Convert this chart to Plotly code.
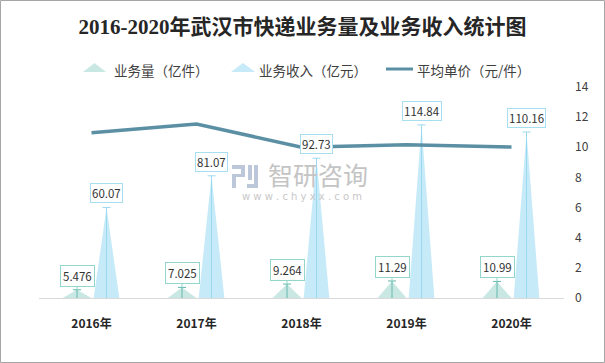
import plotly.graph_objects as go

# ---------------- data ----------------
years = ["2016年", "2017年", "2018年", "2019年", "2020年"]
volume = [5.476, 7.025, 9.264, 11.29, 10.99]          # 业务量（亿件）
revenue = [60.07, 81.07, 92.73, 114.84, 110.16]       # 业务收入（亿元）
unit_price = [10.97, 11.54, 10.01, 10.17, 10.02]      # 平均单价（元/件）
price_ticks = [0, 2, 4, 6, 8, 10, 12, 14]
volume_labels = ["5.476", "7.025", "9.264", "11.29", "10.99"]
revenue_labels = ["60.07", "81.07", "92.73", "114.84", "110.16"]

# ---------------- layout constants ----------------
W, H = 605, 363
ML, MR, MT, MB = 39, 41, 87, 65
PW, PH = W - ML - MR, H - MT - MB


def px_x(px):
    return (px - ML) / PW


def px_y(py):
    return (H - MB - py) / PH


VOL_OFF, REV_OFF = -0.138, 0.143
VOL_HW, REV_HW = 0.137, 0.122
CAP_HW = 0.038

VOL_FILL = "#c9e8e4"
REV_FILL = "#c6eaf8"
VOL_LINE = "#62b9ad"
REV_LINE = "#9ad9ef"
PRICE_COLOR = "#5b8fa4"
FONT = "Microsoft YaHei, Noto Sans CJK SC, Noto Sans, sans-serif"


def triangles(values, off, hw):
    xs, ys = [], []
    for i, v in enumerate(values):
        c = i + off
        xs += [c - hw, c, c + hw, c - hw, None]
        ys += [0, v, 0, 0, None]
    return xs, ys


def leaders(values, off):
    xs, ys = [], []
    for i, v in enumerate(values):
        c = i + off
        xs += [c, c, None, c - CAP_HW, c + CAP_HW, None]
        ys += [0, v, None, v, v, None]
    return xs, ys


fig = go.Figure()

for vals, off, hw, fillc, linec in [
    (volume, VOL_OFF, VOL_HW, VOL_FILL, VOL_LINE),
    (revenue, REV_OFF, REV_HW, REV_FILL, REV_LINE),
]:
    tx, ty = triangles(vals, off, hw)
    fig.add_trace(go.Scatter(x=tx, y=ty, mode="lines", fill="toself",
                             fillcolor=fillc, line=dict(width=0, color=fillc),
                             hoverinfo="skip", showlegend=False, yaxis="y"))
    lx, ly = leaders(vals, off)
    fig.add_trace(go.Scatter(x=lx, y=ly, mode="lines",
                             line=dict(width=1, color=linec),
                             hoverinfo="skip", showlegend=False, yaxis="y"))

fig.add_trace(go.Scatter(x=list(range(len(years))), y=unit_price, mode="lines",
                         line=dict(width=3.5, color=PRICE_COLOR),
                         showlegend=False, yaxis="y2"))

annotations = []
for i, (v, t) in enumerate(zip(revenue, revenue_labels)):
    annotations.append(dict(x=i + REV_OFF, y=v, xref="x", yref="y", text=t,
                            showarrow=False, yanchor="bottom", yshift=4,
                            bordercolor="#a8def2", borderwidth=1, borderpad=1,
                            bgcolor="white",
                            font=dict(size=11.5, color="#333333", family=FONT)))
for i, (v, t) in enumerate(zip(volume, volume_labels)):
    annotations.append(dict(x=i + VOL_OFF, y=v, xref="x", yref="y", text=t,
                            showarrow=True, arrowhead=0, arrowwidth=1,
                            arrowcolor="#93d6cc", ax=0, ay=-14,
                            bordercolor="#93d6cc", borderwidth=1, borderpad=2,
                            bgcolor="white",
                            font=dict(size=11.5, color="#333333", family=FONT)))

# custom legend
legend_items = [
    ("业务量（亿件）", 112),
    ("业务收入（亿元）", 257),
    ("平均单价（元/件）", 415),
]
for text, xpx in legend_items:
    annotations.append(dict(x=px_x(xpx), y=px_y(69.5), xref="paper", yref="paper",
                            text=text, showarrow=False, xanchor="left",
                            yanchor="middle",
                            font=dict(size=13.5, color="#404040", family=FONT)))

# watermark
annotations.append(dict(x=px_x(318), y=px_y(174), xref="paper", yref="paper",
                        text="智研咨询", showarrow=False,
                        font=dict(size=25, color="#c4c4c4", family=FONT)))
annotations.append(dict(x=px_x(302), y=px_y(196), xref="paper", yref="paper",
                        text="w w w . c h y x x . c o m", showarrow=False,
                        font=dict(size=10, color="#c8c8c8", family="DejaVu Sans")))

shapes = []


def tri_path(x0, x1, ybase, ytop):
    xm = (x0 + x1) / 2
    return (f"M {px_x(x0)},{px_y(ybase)} L {px_x(xm)},{px_y(ytop)} "
            f"L {px_x(x1)},{px_y(ybase)} Z")


shapes.append(dict(type="path", xref="paper", yref="paper",
                   path=tri_path(83, 106, 72, 63), fillcolor=VOL_FILL,
                   line=dict(width=0)))
shapes.append(dict(type="path", xref="paper", yref="paper",
                   path=tri_path(231, 255, 72, 63), fillcolor=REV_FILL,
                   line=dict(width=0)))
shapes.append(dict(type="line", xref="paper", yref="paper",
                   x0=px_x(386), x1=px_x(413), y0=px_y(69), y1=px_y(69),
                   line=dict(width=3, color=PRICE_COLOR)))

# watermark logo (approximate)
LOGO = "#bcc8da"
for (x0, y0, x1, y1) in [(232, 165, 245, 169), (241, 165, 245, 177),
                         (232, 174, 245, 177), (232, 174, 236, 188),
                         (248, 165, 252, 180), (247, 184, 258, 188),
                         (254, 165, 258, 184)]:
    shapes.append(dict(type="rect", xref="paper", yref="paper",
                       x0=px_x(x0), x1=px_x(x1), y0=px_y(y1), y1=px_y(y0),
                       fillcolor=LOGO, line=dict(width=0), layer="below"))

# outer border
shapes.append(dict(type="rect", xref="paper", yref="paper",
                   x0=px_x(0.5), x1=px_x(W - 0.5), y0=px_y(H - 0.5), y1=px_y(0.5),
                   line=dict(width=1, color="#a6a6a6"), fillcolor="rgba(0,0,0,0)"))

fig.update_layout(
    width=W, height=H,
    margin=dict(l=ML, r=MR, t=MT, b=MB, pad=0),
    paper_bgcolor="white", plot_bgcolor="white",
    showlegend=False,
    title=dict(text="<b>2016-2020年武汉市快递业务量及业务收入统计图</b>",
               x=0.5, xref="container", xanchor="center",
               y=1 - 27 / H, yref="container", yanchor="middle",
               font=dict(size=21, color="#262626",
                         family="Liberation Serif, Noto Sans CJK SC, serif")),
    xaxis=dict(range=[-0.5, len(years) - 0.5], tickvals=list(range(len(years))),
               ticktext=years, showgrid=False, zeroline=False,
               showline=True, linecolor="#d9d9d9", linewidth=1, ticks="",
               ticklabelstandoff=15,
               tickfont=dict(size=12, color="#262626", family=FONT, weight="bold")),
    yaxis=dict(range=[0, 140], visible=False, showgrid=False, zeroline=False),
    yaxis2=dict(range=[0, 14], overlaying="y", side="right", tickvals=price_ticks,
                showgrid=False, zeroline=False, showline=False, ticks="",
                ticklabelstandoff=10,
                tickfont=dict(size=12, color="#404040", family=FONT)),
    annotations=annotations,
    shapes=shapes,
)

fig.write_html("out.html",
               config={"displayModeBar": False},
               post_script="document.body.style.margin='0';"
                           "document.body.style.overflow='hidden';")
